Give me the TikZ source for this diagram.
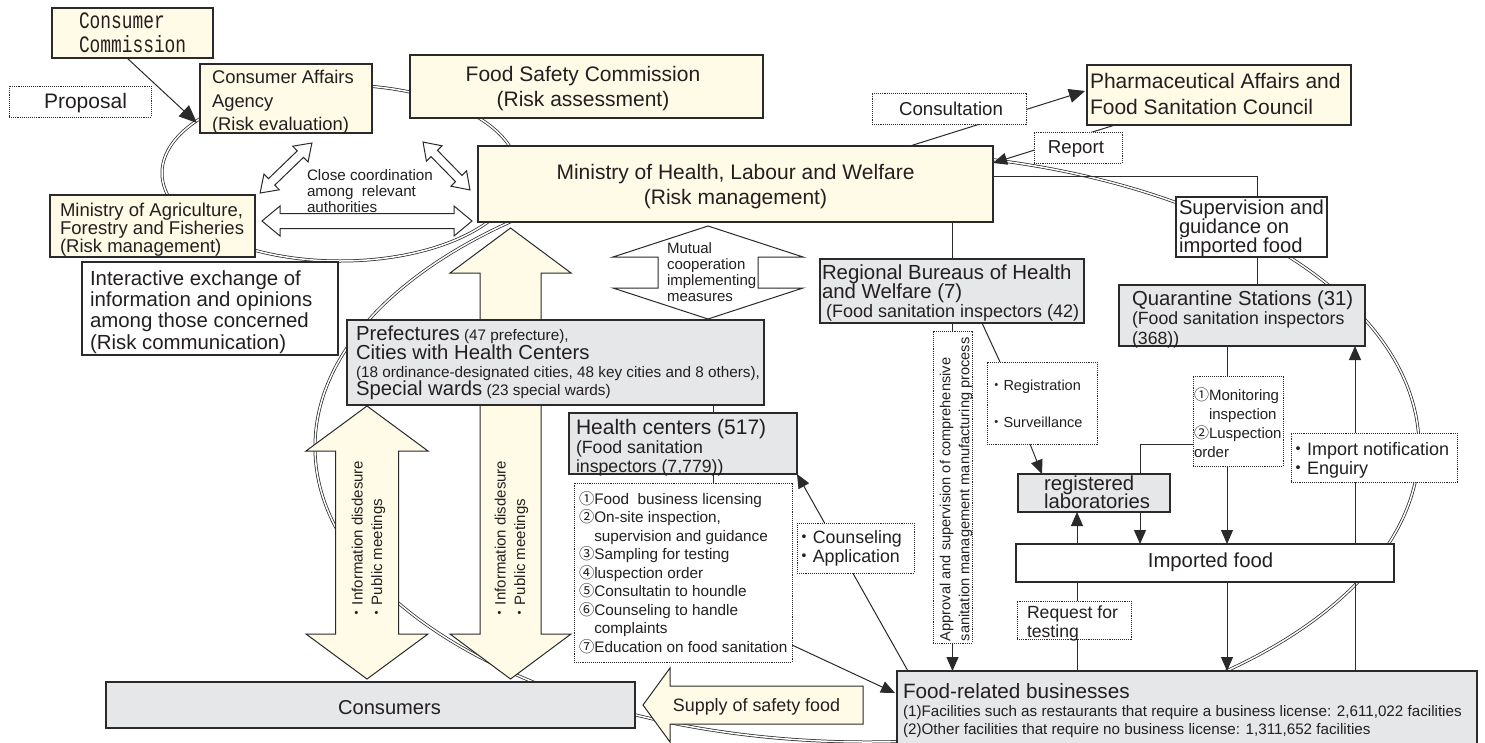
\documentclass[tikz,border=0pt]{standalone}
\usepackage{fontspec}
\setmainfont{Liberation Sans}
\newfontfamily\cjk{Noto Sans CJK JP}
\newfontfamily\mono[FakeStretch=0.76]{Liberation Mono}
\usetikzlibrary{arrows.meta}
\definecolor{cream}{HTML}{FFFBE6}
\definecolor{gfill}{HTML}{E6E7E8}
\definecolor{lc}{HTML}{2A2A2A}
\definecolor{tc}{HTML}{231F20}
\newcommand\fsz[2]{\fontsize{#1}{#2}\selectfont\lineskiplimit=-100pt\relax}
\newcommand\jd{{\cjk ・}}
\newcommand\cn[1]{{\cjk #1}}
\pgfdeclarelayer{back}
\pgfdeclarelayer{mid}
\pgfsetlayers{back,mid,main}
\tikzset{
  box/.style={draw=lc, line width=1.1pt, inner sep=0pt, outer sep=0pt, anchor=north west},
  cbox/.style={box, fill=cream},
  gbox/.style={box, fill=gfill},
  wbox/.style={box, fill=white},
  dbox/.style={box, fill=white, densely dotted, line width=1pt},
  tx/.style={inner sep=0pt, outer sep=0pt, text=tc},
  arr/.style={-{Triangle[length=14pt,width=12pt]}, line width=1pt, draw=lc},
  ln/.style={line width=1pt, draw=lc},
  dl/.style={double=white, double distance=1.5pt, line width=0.75pt, draw=lc},
  bigarrow/.style={draw=lc, line width=1pt, fill=cream},
  pics/wdbl/.style args={#1/#2/#3/#4}{code={
    \draw[line width=1pt, draw=lc, fill=white] (-#1/2,0) -- (-#1/2+#2,#3) -- (-#1/2+#2,#4) -- (#1/2-#2,#4) -- (#1/2-#2,#3) -- (#1/2,0) -- (#1/2-#2,-#3) -- (#1/2-#2,-#4) -- (-#1/2+#2,-#4) -- (-#1/2+#2,-#3) -- cycle;}},
  pics/cdbl/.style args={#1/#2/#3/#4}{code={
    \draw[line width=1pt, draw=lc, fill=cream] (-#1/2,0) -- (-#1/2+#2,#3) -- (-#1/2+#2,#4) -- (#1/2-#2,#4) -- (#1/2-#2,#3) -- (#1/2,0) -- (#1/2-#2,-#3) -- (#1/2-#2,-#4) -- (-#1/2+#2,-#4) -- (-#1/2+#2,-#3) -- cycle;}}
}
\begin{document}
\begin{tikzpicture}[x=1pt,y=-1pt]
\useasboundingbox (0,0) rectangle (1485,742);

% hollow double arrows
\pic at (367,221) {wdbl=210/18/15/7.5};
\pic[rotate=44] at (286,168) {wdbl=72/16/11/4.5};
\pic[rotate=-45.6] at (446.5,166) {wdbl=67/16/11/4.5};
\pic[rotate=90] at (708,272.5) {wdbl=93/31/95/50};

% boxes
\node[cbox, minimum width=161pt, minimum height=50pt] (cc) at (52,8) {};
\node[dbox, minimum width=142pt, minimum height=31pt] (prop) at (9,86) {};
\node[cbox, minimum width=172pt, minimum height=69pt] (caa) at (200,64) {};
\node[cbox, minimum width=353pt, minimum height=63pt] (fsc) at (410,55) {};
\node[cbox, minimum width=515pt, minimum height=76pt] (mhlw) at (478,146) {};
\node[cbox, minimum width=264pt, minimum height=60pt] (pafsc) at (1087,65) {};
\node[dbox, minimum width=154pt, minimum height=31pt] (consult) at (872,93) {};
\node[dbox, minimum width=88pt, minimum height=31pt] (report) at (1034,132) {};
\node[cbox, minimum width=205pt, minimum height=62pt] (maff) at (50,195) {};
\node[wbox, minimum width=256pt, minimum height=93pt] (inter) at (82,262) {};
\node[gbox, minimum width=417pt, minimum height=85pt] (pref) at (347,320) {};
\node[gbox, minimum width=228pt, minimum height=61pt] (health) at (569,413) {};
\node[dbox, minimum width=218pt, minimum height=179pt] (list) at (574,483) {};
\node[dbox, minimum width=117pt, minimum height=50pt] (counsel) at (797,523) {};
\node[gbox, minimum width=264pt, minimum height=64pt] (regional) at (820,259) {};
\node[dbox, minimum width=39pt, minimum height=312pt] (approv) at (933,331) {};
\node[dbox, minimum width=110pt, minimum height=82pt] (regist) at (987,362) {};
\node[wbox, minimum width=151pt, minimum height=60pt] (sup) at (1176,197) {};
\node[gbox, minimum width=246pt, minimum height=61pt] (quar) at (1119,285) {};
\node[dbox, minimum width=90pt, minimum height=90pt] (monitor) at (1193,376) {};
\node[gbox, minimum width=152pt, minimum height=38pt] (reglab) at (1018,474) {};
\node[dbox, minimum width=166pt, minimum height=49pt] (impnot) at (1291,433) {};
\node[wbox, minimum width=378pt, minimum height=38pt] (imported) at (1016,544) {};
\node[dbox, minimum width=114pt, minimum height=38pt] (request) at (1017,601) {};
\node[gbox, minimum width=580pt, minimum height=80pt] (foodbiz) at (897,671) {};
\node[gbox, minimum width=529pt, minimum height=46pt] (consumers) at (106,682) {};

% texts
\node[tx, anchor=north west, align=left, font=\mono\fsz{23.5}{24}] (cct) at (79,13) {Consumer\\Commission};
\node[tx, anchor=base, font=\fsz{21}{25}] (propt) at (85.5,108.5) {Proposal};
\node[tx, anchor=north west, align=left, font=\fsz{18.4}{23.5}] (caat) at (212,70.2) {Consumer Affairs\\Agency\\(Risk evaluation)};
\node[tx, anchor=north, align=center, font=\fsz{21}{25}] (fsct) at (583,66.2) {Food Safety Commission\\(Risk assessment)};
\node[tx, anchor=north, align=center, font=\fsz{21}{25}] (mhlwt) at (735.5,164.2) {Ministry of Health, Labour and Welfare\\(Risk management)};
\node[tx, anchor=north west, align=left, font=\fsz{21}{26}] (pafsct) at (1090,73.2) {Pharmaceutical Affairs and\\Food Sanitation Council};
\node[tx, anchor=base, font=\fsz{18.7}{22}] (consultt) at (951,115.7) {Consultation};
\node[tx, anchor=base, font=\fsz{18.7}{22}] (reportt) at (1076,153.7) {Report};
\node[tx, anchor=north west, align=left, font=\fsz{18.5}{18}] (mafft) at (60,203.2) {Ministry of Agriculture,\\Forestry and Fisheries\\(Risk management)};
\node[tx, anchor=north west, align=left, font=\fsz{15.2}{16}] (closet) at (307,169.4) {Close coordination\\among\ \ relevant\\authorities};
\node[tx, anchor=north west, align=left, font=\fsz{20.4}{21.3}] (intert) at (90,270.5) {Interactive exchange of\\information and opinions\\among those concerned\\(Risk communication)};
\node[tx, anchor=north west, align=left, font=\fsz{15}{16}] (mutualt) at (667,242.5) {Mutual\\cooperation\\implementing\\measures};
\node[tx, anchor=base west, font=\fsz{20.3}{24}] (pref1) at (356,340.3) {Prefectures{\fsz{15.3}{18} (47 prefecture),}};
\node[tx, anchor=base west, font=\fsz{20.3}{24}] (pref2) at (356,359.5) {Cities with Health Centers};
\node[tx, anchor=base west, font=\fsz{15.3}{18}] (pref3) at (356,377.5) {(18 ordinance-designated cities, 48 key cities and 8 others),};
\node[tx, anchor=base west, font=\fsz{20.3}{24}] (pref4) at (356,395.3) {Special wards{\fsz{15.3}{18} (23 special wards)}};
\node[tx, anchor=north west, align=left, font=\fsz{20.4}{19}] (regt) at (822,264.5) {Regional Bureaus of Health\\and Welfare (7)\\{\fsz{18}{19}\hspace*{4pt}(Food sanitation inspectors (42)}};
\node[tx, anchor=north west, align=left, font=\fsz{20.2}{19}] (supt) at (1179,199.5) {Supervision and\\guidance on\\imported food};
\node[tx, anchor=north west, align=left, font=\fsz{20.3}{19.5}] (quart) at (1132,290.5) {Quarantine Stations (31)\\{\fsz{17.7}{19.5}(Food sanitation inspectors}\\{\fsz{17.7}{19.5}(368))}};
\node[tx, anchor=north west, align=left, font=\fsz{21}{19}] (healtht) at (576,419.2) {Health centers (517)\\{\fsz{17.7}{19}(Food sanitation}\\{\fsz{17.7}{19}inspectors (7,779))}};
\node[tx, anchor=north west, align=left, font=\fsz{15.3}{18.5}] (listt) at (579,491.3) {\cn{①}Food\ \ business licensing\\\cn{②}On-site inspection,\\\hspace*{1em}supervision and guidance\\\cn{③}Sampling for testing\\\cn{④}luspection order\\\cn{⑤}Consultatin to houndle\\\cn{⑥}Counseling to handle\\\hspace*{1em}complaints\\\cn{⑦}Education on food sanitation};
\node[tx, anchor=north west, align=left, font=\fsz{17.8}{19}] (counselt) at (795,530.4) {\jd Counseling\\\jd Application};
\node[tx, anchor=north west, align=left, font=\fsz{18}{19}] (impnt) at (1289,442.3) {\jd Import notification\\\jd Enguiry};
\node[tx, anchor=north west, align=left, font=\fsz{15}{19.3}] (monitt) at (1194,387.4) {\cn{①}Monitoring\\\hspace*{1em}inspection\\\cn{②}Luspection\\order};
\node[tx, anchor=base west, font=\fsz{14.5}{18}] (regist1) at (989,390.2) {\jd Registration};
\node[tx, anchor=base west, font=\fsz{14.5}{18}] (regist2) at (989,427.2) {\jd Surveillance};
\node[tx, anchor=north west, align=left, font=\fsz{20.3}{18}] (reglabt) at (1044,476) {registered\\laboratories};
\node[tx, anchor=base, font=\fsz{20.3}{24}] (impt) at (1210.5,567.3) {Imported food};
\node[tx, anchor=north west, align=left, font=\fsz{17.6}{19}] (reqt) at (1027,605.5) {Request for\\testing};
\node[tx, rotate=90, anchor=base west, font=\fsz{14.6}{18}] (apt1) at (950.3,641) {Approval and supervision of comprehensive};
\node[tx, rotate=90, anchor=base west, font=\fsz{14.6}{18}] (apt2) at (969.3,641) {sanitation management manufacturing process};
\node[tx, anchor=base west, font=\fsz{20.7}{24}] (fbt1) at (903,698.5) {Food-related businesses};
\node[tx, anchor=base west, font=\fsz{15.2}{18}] (fbt2) at (903,716.5) {(1)Facilities such as restaurants that require a business license: 2,611,022 facilities};
\node[tx, anchor=base west, font=\fsz{15.2}{18}] (fbt3) at (903,734.5) {(2)Other facilities that require no business license: 1,311,652 facilities};
\node[tx, anchor=base, font=\fsz{20.1}{24}] (const) at (389.5,714.3) {Consumers};
\node[tx, anchor=base, font=\fsz{17.9}{22}] (supplyt) at (756.5,711.5) {Supply of safety food};
\node[tx, rotate=90, anchor=base west, font=\fsz{15}{19}] (ia1) at (362.5,620) {\jd Information disdesure};
\node[tx, rotate=90, anchor=base west, font=\fsz{15}{19}] (ia2) at (382,620) {\jd Public meetings};
\node[tx, rotate=90, anchor=base west, font=\fsz{15}{19}] (ib1) at (505.5,620) {\jd Information disdesure};
\node[tx, rotate=90, anchor=base west, font=\fsz{15}{19}] (ib2) at (525,620) {\jd Public meetings};

% ellipses
\begin{pgfonlayer}{back}
\fill[white] (0,0) rectangle (1485,742);
\draw[dl] (340,173) ellipse [x radius=178pt, y radius=88pt];
\draw[dl] (867,447) ellipse [x radius=552pt, y radius=295pt];
\end{pgfonlayer}

% big arrows and connectors
\begin{pgfonlayer}{mid}
\pic[rotate=90] at (367,542.5) {cdbl=273/45/61/31.5};
\pic[rotate=90] at (510.5,453.5) {cdbl=451/45/60.5/30.5};
\draw[bigarrow] (643,705) -- (670,668) -- (670,686) -- (863,686) -- (863,724) -- (670,724) -- (670,742) -- cycle;

\draw[arr, -{Triangle[length=18pt,width=15pt]}] ([xshift=75pt]cc.south west) -- ([xshift=-3pt,yshift=10pt]caa.south west);
\draw[arr, -{Triangle[length=16pt,width=14pt]}] ([xshift=432pt]mhlw.north west) -- ([xshift=-2pt,yshift=4pt]pafsc.west);
\draw[arr] ([xshift=28pt]pafsc.south west) -- ([yshift=-17pt]mhlw.north east);
\draw[ln] ([yshift=-30pt]mhlw.north east) -| ([xshift=81pt]sup.north west);
\draw[ln] ([xshift=81pt]sup.south west) -- ([xshift=81pt]sup.south west |- quar.north);
\draw[ln] ([xshift=474pt]mhlw.south west) -- ([xshift=474pt]mhlw.south west |- regional.north);
\draw[ln] (approv.north |- regional.south) -- (approv.north);
\draw[arr] (approv.south) -- (approv.south |- foodbiz.north);
\draw[ln] ([xshift=162pt]regional.south west) -- ([xshift=13pt]regist.north west);
\draw[arr] ([xshift=43pt]regist.south west) -- ([xshift=24pt]reglab.north west);
\draw[ln] ([xshift=34pt]monitor.north west |- quar.south) -- ([xshift=34pt]monitor.north west);
\draw[arr] ([xshift=34pt]monitor.south west) -- ([xshift=34pt]monitor.south west |- imported.north);
\draw[arr] ([yshift=22pt]monitor.south west) -| ([xshift=124pt]imported.north west);
\draw[arr] ([xshift=61pt]imported.north west) -- ([xshift=61pt]imported.north west |- reglab.south);
\draw[ln] ([xshift=61pt]imported.south west) -- ([xshift=61pt]imported.south west |- foodbiz.north);
\draw[arr] ([xshift=211pt]imported.south west) -- ([xshift=211pt]imported.south west |- foodbiz.north);
\draw[arr] ([xshift=458pt]foodbiz.north west) -- ([xshift=458pt]foodbiz.north west |- quar.south);
\draw[arr] ([xshift=11pt]foodbiz.north west) -- (health.south east);
\draw[arr] ([yshift=17pt]list.south east) -- ([xshift=-2pt,yshift=-22pt]foodbiz.north west);
\draw[ln] ([xshift=144pt]health.north west |- pref.south) -- ([xshift=144pt]health.north west);
\draw[ln] ([xshift=144pt]health.south west) -- ([xshift=144pt]health.south west |- list.north);
\end{pgfonlayer}
\end{tikzpicture}
\end{document}
